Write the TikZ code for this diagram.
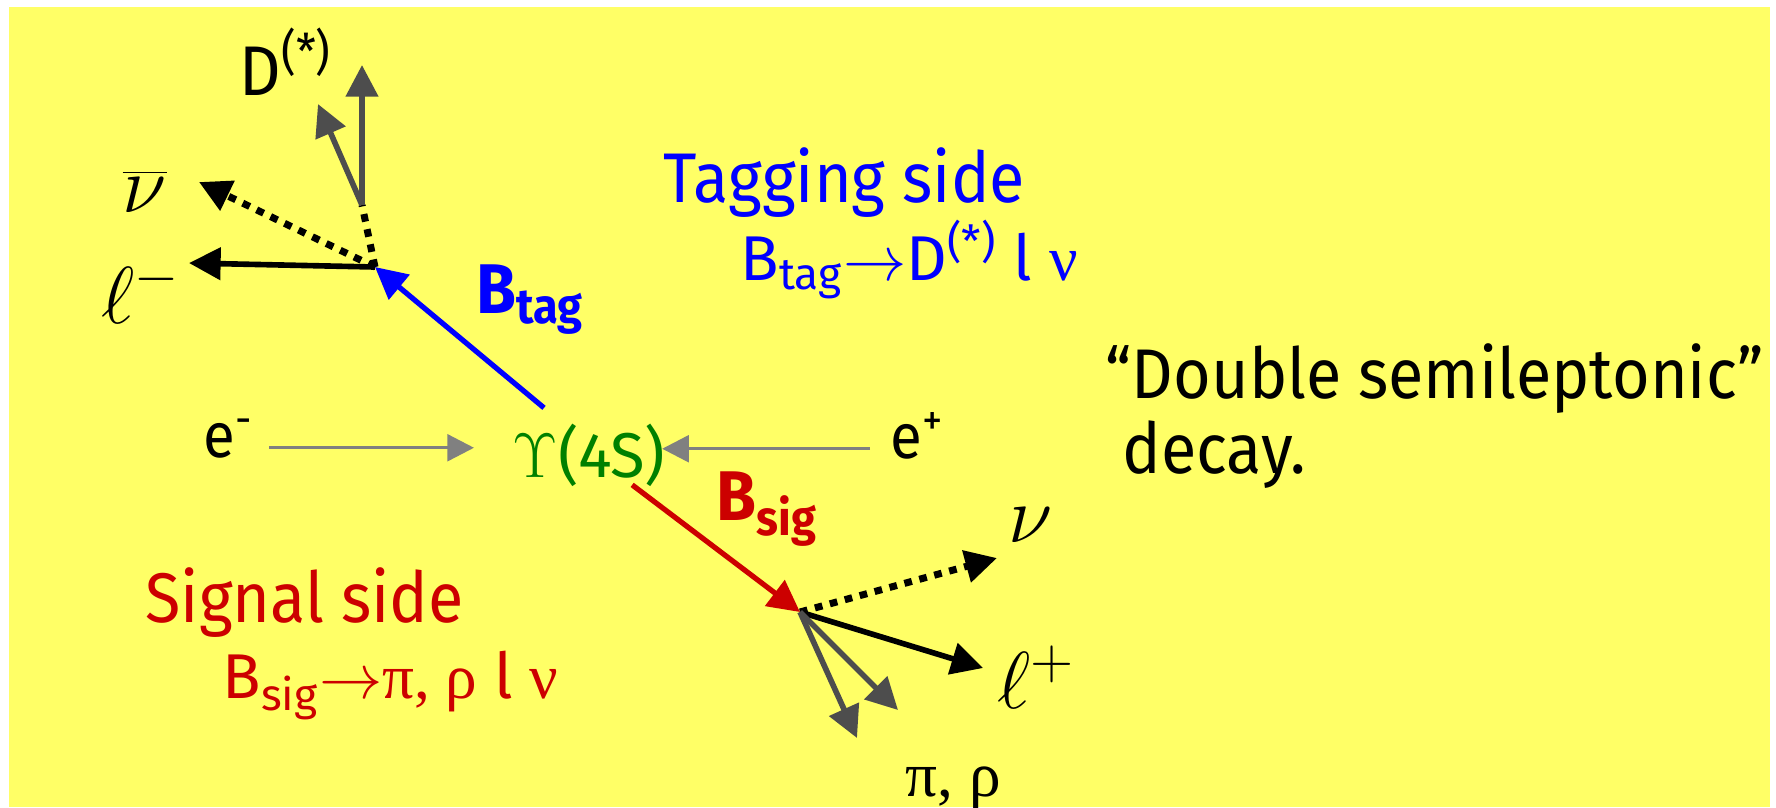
\RequirePackage{fix-cm}
\documentclass[tikz,border=0pt]{standalone}
\usepackage[no-math]{fontspec}
\setmainfont{Fira Sans}[FakeStretch=0.92]
\newfontfamily\plainfont{Fira Sans}
\newfontfamily\greekfont{Liberation Serif}
\usetikzlibrary{arrows.meta}
\definecolor{slide}{HTML}{FFFF66}
\definecolor{tagblue}{HTML}{0000FF}
\definecolor{sigred}{HTML}{CC0000}
\definecolor{upsgreen}{HTML}{008000}
\definecolor{beamgray}{HTML}{808080}
\definecolor{hadron}{HTML}{4D4D4D}

\begin{document}
\begin{tikzpicture}[
  lbl/.style={anchor=base west,inner sep=0pt},
  big/.style={font=\fontsize{20}{24}\selectfont},
  small/.style={font=\plainfont\fontsize{18}{20}\selectfont},
  sym/.style={font=\fontsize{23}{26}\selectfont},
  bold/.style={font=\fontsize{20}{24}\selectfont\bfseries},
  tip/.style={-{Triangle[length=9pt,width=9pt]}},
  beam/.style={-{Triangle[length=7.6pt,width=7.6pt]},line width=0.95pt,beamgray},
  charged/.style={tip,line width=1.6pt},
  dots/.style={line width=2pt,dash pattern=on 2.2pt off 2.2pt},
  neutrino/.style={tip,dots},
  hadr/.style={tip,line width=1.6pt,hadron}
]
  \useasboundingbox (0,0) rectangle (17.76,-8.07);
  \clip (0,0) rectangle (17.76,-8.07);
  \fill[slide] (0.09,-0.07) rectangle (17.70,-8.07);

  % decay vertices and arrow ends
  \coordinate (tagv) at (3.75,-2.67);
  \coordinate (dv) at (3.62,-2.05);
  \coordinate (sigv) at (8.00,-6.12);
  \coordinate (dtipa) at (3.62,-0.65);
  \coordinate (dtipb) at (3.18,-1.04);
  \coordinate (nubtip) at (1.99,-1.82);
  \coordinate (lmtip) at (1.89,-2.63);
  \coordinate (nutip) at (9.97,-5.58);
  \coordinate (lptip) at (9.83,-6.68);
  \coordinate (pitipa) at (8.57,-7.38);
  \coordinate (pitipb) at (8.98,-7.10);

  % beams
  \node[lbl,font=\fontsize{18}{20}\selectfont] (em) at (2.03,-4.57) {e\textsuperscript{-}};
  \node[lbl,font=\fontsize{18}{20}\selectfont] (ep) at (8.90,-4.58) {e\textsuperscript{+}};
  \node[lbl,font=\plainfont\fontsize{18}{20}\selectfont,upsgreen] (ups) at (5.12,-4.77) {$\Upsilon$(4S)};
  \draw[beam,shorten <=0.15cm,shorten >=0.38cm] (em.mid east) -- (em.mid east -| ups.west);
  \draw[beam,shorten <=0.2cm,shorten >=-0.04cm] (ep.mid west) -- (ep.mid west -| ups.east);

  % tagging side
  \node[lbl,big] (dstar) at (2.39,-0.95) {D\textsuperscript{(*)}};
  \node[lbl,sym] (nubar) at (1.22,-2.12) {$\overline{\nu}$};
  \node[lbl,sym] (lm) at (1.01,-3.23) {$\ell^-$};
  \node[lbl,bold,tagblue] (btag) at (4.76,-3.13) {B\textsubscript{tag}};
  \node[lbl,big,tagblue] (tagside) at (6.63,-2.02) {Tagging side};
  \node[lbl,small,tagblue] (tagdecay) at (7.40,-2.80) {B\textsubscript{tag}$\rightarrow$D\textsuperscript{(*)} l {\greekfont ν}};
  \draw[dots] (tagv) -- (dv);
  \draw[hadr] (dv) -- (dtipa);
  \draw[hadr] (dv) -- (dtipb);
  \draw[neutrino] (tagv) -- (nubtip);
  \draw[charged] (tagv) -- (lmtip);
  \draw[tip,line width=1.5pt,tagblue] ([xshift=0.32cm,yshift=0.15cm]ups.north west) -- (tagv);

  % signal side
  \node[lbl,bold,sigred] (bsig) at (7.16,-5.20) {B\textsubscript{sig}};
  \node[lbl,sym] (nu) at (10.08,-5.42) {$\nu$};
  \node[lbl,sym] (lp) at (9.97,-7.08) {$\ell^+$};
  \node[lbl,font=\greekfont\fontsize{18}{20}\selectfont] (pirho) at (9.05,-7.96) {π, ρ};
  \node[lbl,big,sigred] (sigside) at (1.45,-6.22) {Signal side};
  \node[lbl,small,sigred] (sigdecay) at (2.22,-6.98) {B\textsubscript{sig}$\rightarrow${\greekfont π, ρ} l {\greekfont ν}};
  \draw[neutrino] (sigv) -- (nutip);
  \draw[charged] (sigv) -- (lptip);
  \draw[hadr] (sigv) -- (pitipa);
  \draw[hadr] (sigv) -- (pitipb);
  \draw[tip,line width=1.5pt,sigred] ([xshift=-0.34cm,yshift=0.02cm]ups.south east) -- (sigv);

  % comment
  \node[lbl,big] (dsl) at (11.05,-3.98) {``Double semileptonic''};
  \node[lbl,big] (decay) at ([xshift=0.17cm,yshift=-0.75cm]dsl.base west) {decay.};
\end{tikzpicture}
\end{document}
